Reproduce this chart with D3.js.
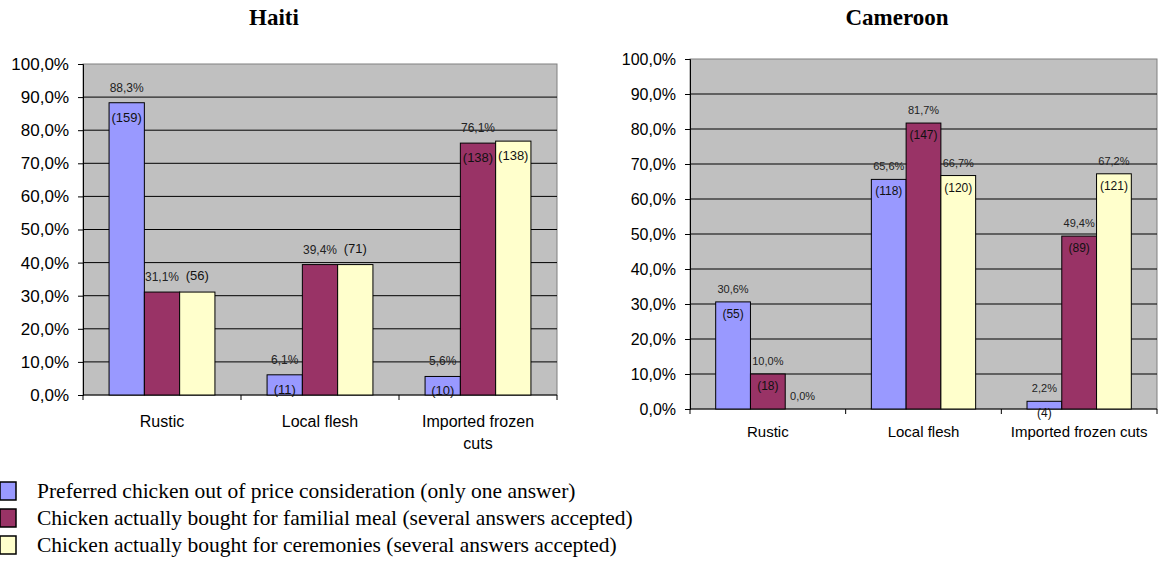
<!DOCTYPE html>
<html>
<head>
<meta charset="utf-8">
<script src="https://d3js.org/d3.v7.min.js"></script>
<style>
  body { margin: 0; background: #fff; }
  svg { display: block; }
  .tick text { fill: #000; }
</style>
</head>
<body>
<script>
var width = 1158, height = 578;

var categories = ["Rustic", "Local flesh", "Imported frozen cuts"];
var seriesNames = [
  "Preferred chicken out of price consideration (only one answer)",
  "Chicken actually bought for familial meal (several answers accepted)",
  "Chicken actually bought for ceremonies (several answers accepted)"
];
var colors = ["#9999ff", "#993366", "#ffffcc"];
var yTicks = [0, 10, 20, 30, 40, 50, 60, 70, 80, 90, 100];

// values per category, one per series (%)
var haitiValues = [[88.3, 31.1, 31.1], [6.1, 39.4, 39.4], [5.6, 76.1, 76.7]];
var haitiPct = [["88,3%", "31,1%", ""], ["6,1%", "39,4%", ""], ["5,6%", "76,1%", ""]];
var haitiCount = [["(159)", "", "(56)"], ["(11)", "", "(71)"], ["(10)", "(138)", "(138)"]];
var haitiCountOut = [[false, false, true], [false, false, true], [false, false, false]];

var camValues = [[30.6, 10.0, 0.0], [65.6, 81.7, 66.7], [2.2, 49.4, 67.2]];
var camPct = [["30,6%", "10,0%", "0,0%"], ["65,6%", "81,7%", "66,7%"], ["2,2%", "49,4%", "67,2%"]];
var camCount = [["(55)", "(18)", ""], ["(118)", "(147)", "(120)"], ["(4)", "(89)", "(121)"]];
var camCountOut = [[false, false, false], [false, false, false], [false, false, false]];

var svg = d3.select("body").append("svg")
  .attr("width", width).attr("height", height);

function fmt(d){ return d.toFixed(1).replace(".", ",") + "%"; }

function drawChart(opt){
  var x0 = d3.scaleBand().domain(categories).range([opt.left, opt.right]);
  var bw = x0.bandwidth();
  var x1 = d3.scaleBand().domain([0, 1, 2]).range([bw * 0.165, bw * 0.835]);
  var y = d3.scaleLinear().domain([0, 100]).range([opt.bottom, opt.top]);

  var g = svg.append("g");

  g.append("text")
    .attr("x", opt.titleX).attr("y", 25)
    .attr("text-anchor", "middle")
    .style("font-family", "'Liberation Serif', 'Times New Roman', serif")
    .style("font-weight", "bold")
    .style("font-size", "23px")
    .text(opt.title);

  g.append("rect")
    .attr("x", opt.left).attr("y", opt.top)
    .attr("width", opt.right - opt.left).attr("height", opt.bottom - opt.top)
    .attr("fill", "#c0c0c0").attr("stroke", "#808080");

  // gridlines
  g.selectAll(".grid").data(yTicks.slice(1, -1)).enter().append("line")
    .attr("x1", opt.left).attr("x2", opt.right)
    .attr("y1", d => y(d)).attr("y2", d => y(d))
    .attr("stroke", "#000").attr("stroke-width", 1);

  var yAxis = g.append("g")
    .attr("transform", "translate(" + opt.left + ",0)")
    .call(d3.axisLeft(y).tickValues(yTicks).tickFormat(fmt).tickSizeOuter(0).tickSize(5).tickPadding(opt.tickPad));
  yAxis.selectAll("text")
    .style("font-family", "'Liberation Sans', Arial, sans-serif")
    .style("font-size", opt.tickFont + "px");
  yAxis.select(".domain").attr("stroke", "#000");

  // bottom axis line & ticks at band boundaries
  g.append("line")
    .attr("x1", opt.left).attr("x2", opt.right)
    .attr("y1", opt.bottom).attr("y2", opt.bottom)
    .attr("stroke", "#000");
  var bounds = categories.map(c => x0(c)).concat([opt.right]);
  g.selectAll(".xt").data(bounds).enter().append("line")
    .attr("x1", d => d).attr("x2", d => d)
    .attr("y1", opt.bottom).attr("y2", opt.bottom + 5)
    .attr("stroke", "#000");

  // category labels
  categories.forEach(function(c){
    var lines = opt.catLines[c] || [c];
    var t = g.append("text")
      .attr("text-anchor", "middle")
      .style("font-family", "'Liberation Sans', Arial, sans-serif")
      .style("font-size", opt.catFont + "px");
    lines.forEach(function(l, i){
      t.append("tspan")
        .attr("x", x0(c) + bw / 2)
        .attr("y", opt.bottom + opt.catDy + i * opt.catFont * 1.4)
        .text(l);
    });
  });

  categories.forEach(function(c, ci){
    opt.values[ci].forEach(function(v, si){
      var bx = x0(c) + x1(si);
      var w = x1.bandwidth();
      if (v > 0) {
        g.append("rect")
          .attr("x", bx).attr("y", y(v))
          .attr("width", w).attr("height", y(0) - y(v))
          .attr("fill", colors[si]).attr("stroke", "#000").attr("stroke-width", 1);
      }
      var pct = opt.pct[ci][si];
      if (pct) {
        g.append("text")
          .attr("x", bx + w / 2).attr("y", y(v) - opt.pctGap)
          .attr("text-anchor", "middle")
          .style("font-family", "'Liberation Sans', Arial, sans-serif")
          .style("font-size", opt.pctFont + "px")
          .style("fill", "#222")
          .text(pct);
      }
      var cnt = opt.count[ci][si];
      if (cnt) {
        var out = opt.countOut[ci][si];
        g.append("text")
          .attr("x", bx + w / 2)
          .attr("y", out ? y(v) - opt.pctGap - 1 : y(v) + opt.cntGap)
          .attr("text-anchor", "middle")
          .style("font-family", "'Liberation Sans', Arial, sans-serif")
          .style("font-size", opt.cntFont + "px")
          .style("fill", "#111")
          .text(cnt);
      }
    });
  });
}

drawChart({
  title: "Haiti", titleX: 274,
  left: 83, right: 557, top: 64, bottom: 395,
  values: haitiValues, pct: haitiPct, count: haitiCount, countOut: haitiCountOut,
  tickFont: 17, tickPad: 9, catFont: 16, catDy: 32, pctFont: 12, cntFont: 13, pctGap: 11, cntGap: 19,
  catLines: {"Imported frozen cuts": ["Imported frozen", "cuts"]}
});

drawChart({
  title: "Cameroon", titleX: 897,
  left: 690, right: 1157, top: 59, bottom: 409,
  values: camValues, pct: camPct, count: camCount, countOut: camCountOut,
  tickFont: 16, tickPad: 9, catFont: 15, catDy: 28, pctFont: 11, cntFont: 12, pctGap: 9, cntGap: 16,
  catLines: {}
});

// legend
var legend = svg.append("g");
seriesNames.forEach(function(s, i){
  var yy = 482 + i * 27;
  legend.append("rect")
    .attr("x", 0).attr("y", yy).attr("width", 16).attr("height", 18)
    .attr("fill", colors[i]).attr("stroke", "#000").attr("stroke-width", 1.5);
  legend.append("text")
    .attr("x", 37).attr("y", yy + 16)
    .style("font-family", "'Liberation Serif', 'Times New Roman', serif")
    .style("font-size", "21.5px")
    .text(s);
});
</script>
</body>
</html>
